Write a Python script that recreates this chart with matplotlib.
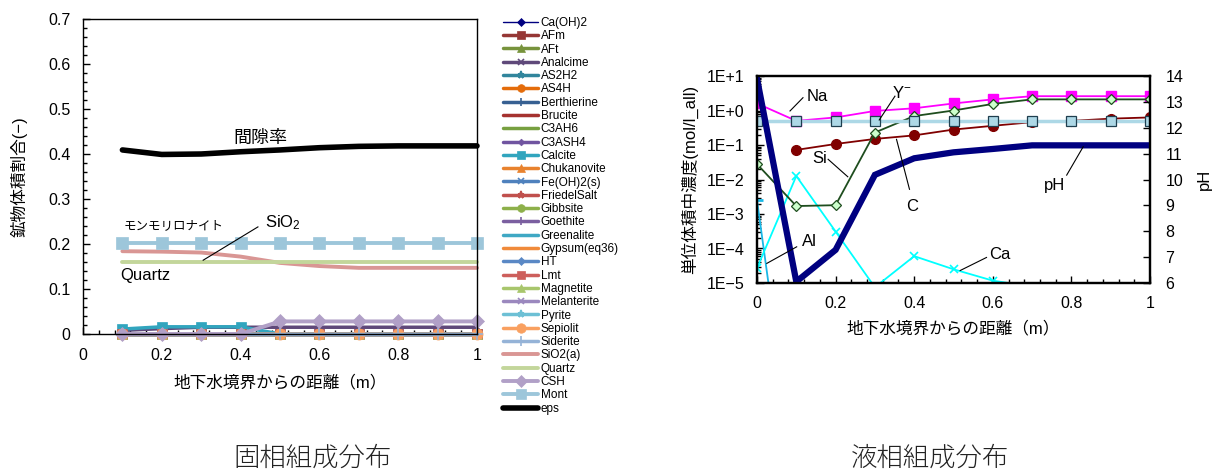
import matplotlib
matplotlib.use('Agg')
import matplotlib.pyplot as plt
from matplotlib.ticker import MultipleLocator, FuncFormatter, LogLocator, NullFormatter
from matplotlib.font_manager import FontProperties

plt.rcParams['font.family'] = ['Liberation Sans', 'Noto Sans CJK JP', 'DejaVu Sans']
plt.rcParams['mathtext.fontset'] = 'custom'
plt.rcParams['mathtext.rm'] = 'Liberation Sans'
plt.rcParams['mathtext.it'] = 'Liberation Sans:italic'
plt.rcParams['axes.unicode_minus'] = True

# ---------------- solid phase data (volume fraction) ----------------
solid_x = [0.1, 0.2, 0.3, 0.4, 0.5, 0.6, 0.7, 0.8, 0.9, 1.0]
zero10 = [0, 0, 0, 0, 0, 0, 0, 0, 0, 0]
analcime = [0.008, 0.012, 0.015, 0.015, 0.015, 0.015, 0.015, 0.015, 0.015, 0.015]
calcite = [0.011, 0.016, 0.016, 0.016, 0.0, 0.0, 0.0, 0.0, 0.0, 0.0]
sio2_a = [0.184, 0.183, 0.181, 0.172, 0.158, 0.151, 0.147, 0.147, 0.147, 0.147]
quartz = [0.161, 0.161, 0.161, 0.161, 0.161, 0.161, 0.161, 0.161, 0.161, 0.161]
csh = [0.0, 0.0, 0.0, 0.0, 0.028, 0.028, 0.028, 0.028, 0.028, 0.028]
mont = [0.202, 0.202, 0.202, 0.202, 0.202, 0.202, 0.202, 0.202, 0.202, 0.202]
eps = [0.409, 0.399, 0.400, 0.405, 0.409, 0.414, 0.417, 0.418, 0.418, 0.418]

mineral_names = ['Ca(OH)2', 'AFm', 'AFt', 'Analcime', 'AS2H2', 'AS4H', 'Berthierine',
                 'Brucite', 'C3AH6', 'C3ASH4', 'Calcite', 'Chukanovite', 'Fe(OH)2(s)',
                 'FriedelSalt', 'Gibbsite', 'Goethite', 'Greenalite', 'Gypsum(eq36)', 'HT',
                 'Lmt', 'Magnetite', 'Melanterite', 'Pyrite', 'Sepiolit', 'Siderite',
                 'SiO2(a)', 'Quartz', 'CSH', 'Mont', 'eps']
mineral_values = [zero10, zero10, zero10, analcime, zero10, zero10, zero10,
                  zero10, zero10, zero10, calcite, zero10, zero10,
                  zero10, zero10, zero10, zero10, zero10, zero10,
                  zero10, zero10, zero10, zero10, zero10, zero10,
                  sio2_a, quartz, csh, mont, eps]

# ---------------- liquid phase data ----------------
liq_x = [0.0, 0.1, 0.2, 0.3, 0.4, 0.5, 0.6, 0.7, 0.8, 0.9, 1.0]
na = [1.6, 0.5, 0.63, 0.97, 1.16, 1.6, 2.1, 2.6, 2.6, 2.6, 2.6]
si = [0.028, 0.0017, 0.0018, 0.23, 0.69, 1.0, 1.55, 2.1, 2.1, 2.1, 2.1]
c_conc = [None, 0.072, 0.107, 0.15, 0.19, 0.28, 0.36, 0.46, 0.5, 0.58, 0.63]
y_minus = [0.48, 0.48, 0.48, 0.48, 0.48, 0.48, 0.48, 0.48, 0.48, 0.48, 0.48]
ca = [2.7e-5, 0.0126, 3.1e-4, 7.5e-6, 6e-5, 2.5e-5, 1.17e-5, 7.9e-6, 5e-6, 4e-6, 3e-6]
al = [2.5e-3, 1.4e-11, 1e-12, 1e-12, 1e-12, 1e-12, 1e-12, 1e-12, 1e-12, 1e-12, 1e-12]
ph = [13.9, 6.05, 7.28, 10.18, 10.82, 11.05, 11.18, 11.32, 11.32, 11.32, 11.32]

# ---------------- styles ----------------
# (color, marker, markersize, linewidth)
mineral_styles = [
    ('#000080', 'D', 5, 1.0),
    ('#953735', 's', 6.5, 2.5),
    ('#77933C', '^', 6.5, 2.5),
    ('#5F497A', 'x', 5, 2.5),
    ('#31859C', '*', 6, 2.5),
    ('#E46C0A', 'o', 6.5, 2.5),
    ('#376092', '|', 7, 2.5),
    ('#A5322F', 'None', 0, 2.5),
    ('#77A040', 'None', 0, 2.5),
    ('#7054A0', 'D', 4, 2.5),
    ('#31A5BE', 's', 7, 2.5),
    ('#E8822E', '^', 6.5, 2.5),
    ('#4F81BD', 'x', 5, 2.5),
    ('#C0504D', '*', 6, 2.5),
    ('#8DB04A', 'o', 6.5, 2.5),
    ('#7B5FA0', '|', 7, 2.5),
    ('#3FA8C4', 'None', 0, 2.5),
    ('#F08A3A', 'None', 0, 2.5),
    ('#5A88C5', 'D', 4.5, 2.5),
    ('#CD5F5C', 's', 7, 2.5),
    ('#A8C66C', '^', 6.5, 2.5),
    ('#9B88BE', 'x', 5, 2.5),
    ('#6DC0D5', '*', 6, 2.5),
    ('#F9A060', 'o', 8, 2.5),
    ('#95B3D7', '+', 8, 2.5),
    ('#D99694', 'None', 0, 2.8),
    ('#C3D69B', 'None', 0, 2.8),
    ('#B1A0C7', 'D', 7, 2.8),
    ('#9DC6DA', 's', 8, 2.8),
    ('#000000', 'None', 0, 4.0),
]

W, H = 1218, 473
fig = plt.figure(figsize=(W / 100, H / 100), dpi=100)

# ================= left chart =================
ax1 = fig.add_axes([83 / W, 1 - 334 / H, (477 - 83) / W, (334 - 19) / H])
handles = []
for name, vals, (col, mk, ms, lw) in zip(mineral_names, mineral_values, mineral_styles):
    ln, = ax1.plot(solid_x, vals, color=col, marker=mk, markersize=ms, lw=lw,
                   markeredgewidth=1.2 if mk in ('x', '+', '|', '*') else 0.5,
                   markeredgecolor=col, solid_capstyle='round', solid_joinstyle='round',
                   label=name, clip_on=False)
    handles.append(ln)

ax1.set_xlim(0, 1)
ax1.set_ylim(0, 0.7)
ax1.xaxis.set_major_locator(MultipleLocator(0.2))
ax1.xaxis.set_minor_locator(MultipleLocator(0.04))
ax1.yaxis.set_major_locator(MultipleLocator(0.1))
ax1.yaxis.set_minor_locator(MultipleLocator(0.02))
fmt_g = FuncFormatter(lambda v, p: '%g' % round(v, 3))
ax1.xaxis.set_major_formatter(fmt_g)
ax1.yaxis.set_major_formatter(fmt_g)
ax1.tick_params(which='both', direction='in', labelsize=11.5, width=1)
ax1.tick_params(which='major', length=5)
ax1.tick_params(which='minor', length=3)
ax1.tick_params(axis='x', pad=10)
ax1.tick_params(axis='y', pad=9)
for sp in ax1.spines.values():
    sp.set_linewidth(1.0)

ax1.set_xlabel('地下水境界からの距離（m）', fontsize=12)
ax1.xaxis.set_label_coords(0.5, -0.13)
ax1.set_ylabel('鉱物体積割合(−)', fontsize=12)
ax1.yaxis.set_label_coords(-0.14, 0.5)

ax1.text(0.449, 0.435, '間隙率', fontsize=13, ha='center', va='center')
ax1.text(0.231, 0.24, 'モンモリロナイト', fontsize=9, ha='center', va='center')
ax1.text(0.462, 0.247, 'SiO$_2$', fontsize=12, ha='left', va='center')
ax1.plot([0.444, 0.305], [0.238, 0.164], color='black', lw=0.8)
ax1.text(0.094, 0.131, 'Quartz', fontsize=12, ha='left', va='center')

leg = fig.legend(handles=handles, loc='upper left', bbox_to_anchor=(503 / W, 1 - 17 / H),
                 frameon=False, prop=FontProperties(family=['Liberation Sans Narrow', 'Liberation Sans'], size=8.5),
                 labelspacing=0.11, handlelength=3.0, handletextpad=0.2, borderpad=0,
                 borderaxespad=0, markerscale=0.85)

# ================= right chart =================
ax2 = fig.add_axes([757 / W, 1 - 283 / H, (1150 - 757) / W, (283 - 76) / H])
ax2.set_yscale('log')
ax2.plot(liq_x, al, color='#1AB8E6', lw=1.3, marker='_', markersize=8, markeredgewidth=2)
ax2.plot(liq_x, ca, color='#00FFFF', lw=1.3, marker='x', markersize=6, markeredgewidth=1.2)
ax2.plot(liq_x, na, color='#FF00FF', lw=1.3, marker='s', markersize=7)
ax2.plot(liq_x, c_conc, color='#800000', lw=1.3, marker='o', markersize=7)
ax2.plot(liq_x, si, color='#1E4D1E', lw=1.3, marker='D', markersize=5.5,
         markerfacecolor='#CCFFCC', markeredgecolor='#1E4D1E', markeredgewidth=0.9)
ax2.plot(liq_x, y_minus, color='#ADD8E6', lw=2.5, marker='s', markersize=7.5,
         markerfacecolor='#ADD8E6', markeredgecolor='#1F3F4F', markeredgewidth=0.9)
ax2.set_xlim(0, 1)
ax2.set_ylim(1e-5, 1e1)
ax2.xaxis.set_major_locator(MultipleLocator(0.2))
ax2.xaxis.set_minor_locator(MultipleLocator(0.04))
ax2.xaxis.set_major_formatter(fmt_g)
ax2.yaxis.set_major_locator(LogLocator(base=10, numticks=20))
ax2.yaxis.set_minor_locator(LogLocator(base=10, subs=[2, 3, 4, 5, 6, 7, 8, 9], numticks=20))
ax2.yaxis.set_minor_formatter(NullFormatter())


def efmt(v, p):
    import math
    e = int(round(math.log10(v)))
    return '1E%s%d' % ('+' if e >= 0 else '\u2212', abs(e))


ax2.yaxis.set_major_formatter(FuncFormatter(efmt))
ax2.tick_params(which='both', direction='in', labelsize=11.5, width=1)
ax2.tick_params(which='major', length=5)
ax2.tick_params(which='minor', length=3)
ax2.tick_params(axis='x', pad=9)
ax2.tick_params(axis='y', pad=9)
for sp in ax2.spines.values():
    sp.set_linewidth(1.6)

ax3 = ax2.twinx()
ax3.plot(liq_x, ph, color='#000080', lw=4.5, solid_joinstyle='miter')
ax3.set_ylim(6, 14)
ax3.yaxis.set_major_locator(MultipleLocator(1))
ax3.tick_params(axis='y', direction='in', labelsize=11.5, length=5, width=1, pad=11)
for sp in ax3.spines.values():
    sp.set_linewidth(1.6)

ax2.set_xlabel('地下水境界からの距離（m）', fontsize=12)
ax2.xaxis.set_label_coords(0.5, -0.18)
ax2.set_ylabel('単位体積中濃度(mol/l_all)', fontsize=12)
ax2.yaxis.set_label_coords(-0.15, 0.5)
ax3.set_ylabel('pH', fontsize=12)
ax3.yaxis.set_label_coords(1.12, 0.5)

# annotation labels (log-axis coordinates)
ann_text = ['Na', 'Y$^{-}$', 'Si', 'C', 'pH', 'Al', 'Ca']
ann_pos = [(0.153, 2.6), (0.368, 3.2), (0.159, 0.041), (0.394, 1.6e-3),
           (0.758, 6.9e-3), (0.133, 1.58e-4), (0.618, 6.5e-5)]
ann_lines = [((0.117, 2.35), (0.084, 0.97)),
             ((0.351, 2.6), (0.311, 0.53)),
             ((0.181, 0.0385), (0.231, 0.012)),
             ((0.388, 5.2e-3), (0.355, 0.146)),
             ((0.788, 0.0134), (0.830, 0.089)),
             ((0.101, 1.12e-4), (0.025, 3.7e-5)),
             ((0.584, 5.5e-5), (0.517, 2.3e-5))]
for t, (tx, ty), ((x0, y0), (x1, y1)) in zip(ann_text, ann_pos, ann_lines):
    ax3.text(tx, ty, t, fontsize=12, ha='center', va='center', transform=ax2.transData, zorder=10)
    ax3.plot([x0, x1], [y0, y1], color='black', lw=0.8, transform=ax2.transData, zorder=10)

# captions
fig.text(313 / W, 1 - 458 / H, '固相組成分布', fontsize=19, ha='center', va='center',
         family=['Noto Sans CJK JP'], fontweight='light', color='#222222')
fig.text(930 / W, 1 - 458 / H, '液相組成分布', fontsize=19, ha='center', va='center',
         family=['Noto Sans CJK JP'], fontweight='light', color='#222222')

fig.savefig('out.png', dpi=100)
